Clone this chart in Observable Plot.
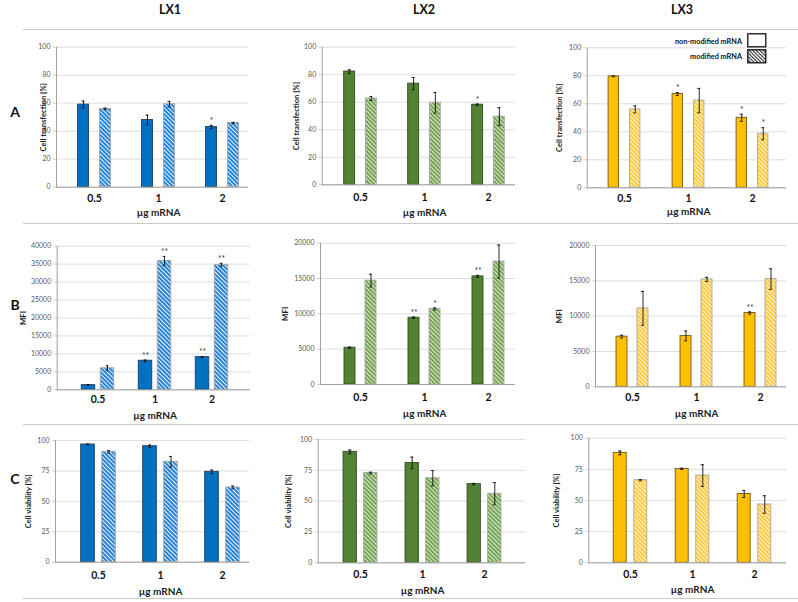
<!DOCTYPE html>
<html><head><meta charset="utf-8">
<script src="https://cdn.jsdelivr.net/npm/d3@7"></script>
<script src="https://cdn.jsdelivr.net/npm/@observablehq/plot@0.6"></script>
<style>
body{margin:0;background:#fff;font-family:Lato,"Open Sans",sans-serif;}
#page{position:relative;width:798px;height:602px;overflow:hidden;background:#fff}
.sep{position:absolute;left:23px;right:0;height:0;border-top:1.5px solid #c8c8c8}
.col{position:absolute;font-weight:bold;font-size:12.5px;transform:translate(-50%,-50%);color:#111;white-space:nowrap}
.row{position:absolute;font-weight:bold;font-size:14px;transform:translate(-50%,-50%);color:#111}
.leg{position:absolute;font-weight:bold;font-size:7.3px;color:#111;white-space:nowrap;transform:translateY(-50%)}
</style></head><body>
<svg width="0" height="0" style="position:absolute">
<defs>
<pattern id="hatch0" patternUnits="userSpaceOnUse" width="3" height="3" patternTransform="rotate(-45)"><rect width="3" height="3" fill="#ffffff"/><rect width="2.1" height="3" fill="#2a84d6"/></pattern>
<pattern id="hatch1" patternUnits="userSpaceOnUse" width="3" height="3" patternTransform="rotate(-45)"><rect width="3" height="3" fill="#d6e9c6"/><rect width="1.7" height="3" fill="#6a9844"/></pattern>
<pattern id="hatch2" patternUnits="userSpaceOnUse" width="3" height="3" patternTransform="rotate(-45)"><rect width="3" height="3" fill="#fff2cc"/><rect width="1.7" height="3" fill="#ffc531"/></pattern>
<pattern id="hatchK" patternUnits="userSpaceOnUse" width="2.5" height="2.5" patternTransform="rotate(-45)"><rect width="2.5" height="2.5" fill="#ffffff"/><rect width="1.1" height="2.5" fill="#333"/></pattern>
</defs></svg>
<div id="page"></div>
<script>
// ---------- data ----------
const doses = ["0.5", "1", "2"];
const cellLines = ["LX1", "LX2", "LX3"];
const rowLetters = ["A", "B", "C"];
const seriesNames = ["non-modified mRNA", "modified mRNA"];
const yTitles = ["Cell transfection [%]", "MFI", "Cell viability [%]"];
const xTitle = "µg mRNA";

// A: cell transfection [%] (rows = LX1, LX2, LX3; cols = doses)
const transNon    = [[59, 48, 43], [82.3, 73.5, 58.2], [79.6, 67, 50]];
const transNonErr = [[2.5, 3.5, 1.2], [1.3, 4.5, 0.5], [0.3, 1, 2.5]];
const transMod    = [[56, 59.3, 45.8], [62.7, 59.6, 49.5], [56, 62.3, 38.6]];
const transModErr = [[0.5, 2, 0.5], [1.5, 7.5, 6.5], [2.5, 8.7, 4.3]];
const transNonSig = [["", "", "*"], ["", "", "*"], ["", "*", "*"]];
const transModSig = [["", "", ""], ["", "", ""], ["", "", "*"]];

// B: MFI
const mfiNon    = [[1300, 8100, 9100], [5200, 9450, 15300], [7100, 7200, 10450]];
const mfiNonErr = [[150, 200, 150], [100, 100, 150], [200, 700, 150]];
const mfiMod    = [[6000, 35900, 34800], [14700, 10700, 17400], [11100, 15200, 15250]];
const mfiModErr = [[700, 1250, 400], [900, 150, 2350], [2400, 300, 1450]];
const mfiNonSig = [["", "**", "**"], ["", "**", "**"], ["", "", "**"]];
const mfiModSig = [["", "**", "**"], ["", "*", ""], ["", "", ""]];

// C: cell viability [%]
const viaNon    = [[96.7, 95.3, 74.3], [90, 81, 63.8], [88.2, 75.4, 55.2]];
const viaNonErr = [[0.5, 1, 1.5], [1.5, 4.7, 0.6], [1.5, 0.5, 2.8]];
const viaMod    = [[90.7, 82.5, 61.4], [72.8, 68.6, 56], [66.3, 70, 46.8]];
const viaModErr = [[1, 4.4, 1.2], [0.7, 6.2, 9], [0.5, 8.7, 7]];
const viaNonSig = [["", "", ""], ["", "", ""], ["", "", ""]];
const viaModSig = [["", "", ""], ["", "", ""], ["", "", ""]];

// axis ticks
const pctTicks = [0, 20, 40, 60, 80, 100];
const mfiTicksLX1 = [0, 5000, 10000, 15000, 20000, 25000, 30000, 35000, 40000];
const mfiTicks = [0, 5000, 10000, 15000, 20000];
const viaTicks = [0, 25, 50, 75, 100];

// ---------- styling / layout ----------
const solidFill = ["#0070C0", "#548235", "#FFC000"];
const solidStroke = ["#1f3f66", "#2f4d1e", "#6f5a22"];
const hatchFill = ["url(#hatch0)", "url(#hatch1)", "url(#hatch2)"];

const measures = [
  {non: transNon, nonErr: transNonErr, mod: transMod, modErr: transModErr, nonSig: transNonSig, modSig: transModSig, ticks: [pctTicks, pctTicks, pctTicks]},
  {non: mfiNon, nonErr: mfiNonErr, mod: mfiMod, modErr: mfiModErr, nonSig: mfiNonSig, modSig: mfiModSig, ticks: [mfiTicksLX1, mfiTicks, mfiTicks]},
  {non: viaNon, nonErr: viaNonErr, mod: viaMod, modErr: viaModErr, nonSig: viaNonSig, modSig: viaModSig, ticks: [viaTicks, viaTicks, viaTicks]}
];

const geom = [
 [ {left:0,top:32,w:263,h:190, axis:56, right:248, yTop:46.7, yBottom:186.7, c0:93.8, c2:222, bw:11, gap:11, tickPad:7.3, xlab:25.5, yOff:13},
   {left:263,top:32,w:267,h:190, axis:321.7, right:515, yTop:46.7, yBottom:184.3, c0:359.7, c2:487.8, bw:11, gap:10.7, tickPad:9, xlab:27.7, yOff:25.7},
   {left:530,top:32,w:268,h:190, axis:586.7, right:786, yTop:47.3, yBottom:187.3, c0:624.2, c2:752.5, bw:10.5, gap:11, tickPad:7, xlab:24.4, yOff:27.4} ],
 [ {left:0,top:226,w:263,h:196, axis:56.7, right:250, yTop:245.7, yBottom:389.3, c0:96.7, c2:211.7, bw:14, gap:5, tickPad:5.4, xlab:26.4, yOff:33.4},
   {left:263,top:226,w:267,h:196, axis:320, right:515, yTop:242.7, yBottom:384, c0:360, c2:488, bw:11, gap:10, tickPad:9, xlab:29.3, yOff:35},
   {left:530,top:226,w:268,h:196, axis:595, right:786, yTop:245, yBottom:386.3, c0:631.5, c2:759.5, bw:11, gap:10, tickPad:7, xlab:27, yOff:36} ],
 [ {left:0,top:426,w:263,h:170, axis:55, right:249, yTop:440, yBottom:561.7, c0:97.5, c2:222.2, bw:14, gap:7, tickPad:9.5, xlab:30, yOff:26.7},
   {left:263,top:426,w:267,h:170, axis:317.7, right:525, yTop:439, yBottom:562.3, c0:359.7, c2:483.7, bw:13.3, gap:7.3, tickPad:7.4, xlab:27.7, yOff:29.7},
   {left:530,top:426,w:268,h:170, axis:588.3, right:786, yTop:437.7, yBottom:562.3, c0:629.7, c2:753.7, bw:13, gap:7.6, tickPad:8, xlab:27, yOff:32.3} ]
];

const page = document.getElementById("page");

function makePanel(r, c) {
  const g = geom[r][c];
  const m = measures[r];
  const ticks = m.ticks[c];
  const non = doses.map((d, i) => ({dose: d, v: m.non[c][i], e: m.nonErr[c][i], sig: m.nonSig[c][i]}));
  const mod = doses.map((d, i) => ({dose: d, v: m.mod[c][i], e: m.modErr[c][i], sig: m.modSig[c][i]}));
  const S = (g.c2 - g.c0) / 2;
  const half = S / 2;
  const off = (g.bw + g.gap) / 2;
  const capIn = half - 1.6;
  const series = [
    {rows: non, fill: solidFill[c], stroke: solidStroke[c], dx: -off, inL: half - g.gap / 2 - g.bw, inR: half + g.gap / 2},
    {rows: mod, fill: hatchFill[c], stroke: "#a6a6a6", dx: off, inL: half + g.gap / 2, inR: half - g.gap / 2 - g.bw}
  ];
  const marks = [
    Plot.gridY(ticks, {stroke: "#dedede", strokeOpacity: 1}),
    Plot.axisY(ticks, {tickSize: 3, tickPadding: 3, stroke: "#d0d0d0", fill: "#595959", fontSize: 7, label: null, tickFormat: d => String(d)}),
    Plot.axisX({tickSize: 0, tickPadding: g.tickPad, fontWeight: "bold", fontSize: 10.5, fill: "#111", label: null}),
    Plot.text([yTitles[r]], {frameAnchor: "left", textAnchor: "middle", lineAnchor: "middle", rotate: -90, dx: -g.yOff, fontWeight: "bold", fontSize: r === 1 ? 7.8 : 7.6, fill: "#222"}),
    Plot.text([{d: "1"}], {x: "d", text: () => xTitle, frameAnchor: "bottom", dy: g.xlab, lineAnchor: "middle", fontWeight: "bold", fontSize: 10, fill: "#1a1a1a"})
  ];
  for (const s of series) {
    marks.push(
      Plot.barY(s.rows, {x: "dose", y: "v", fill: s.fill, stroke: s.stroke, strokeWidth: 0.9, insetLeft: s.inL, insetRight: s.inR})
    );
  }
  marks.push(Plot.ruleY([0], {stroke: "#a0a0a0", strokeWidth: 1}));
  marks.push(Plot.frame({anchor: "left", stroke: "#a0a0a0"}));
  for (const s of series) {
    marks.push(
      Plot.ruleX(s.rows, {x: "dose", y1: d => d.v - d.e, y2: d => d.v + d.e, dx: s.dx, stroke: "#111", strokeWidth: 0.9}),
      Plot.tickY(s.rows, {x: "dose", y: d => d.v + d.e, dx: s.dx, insetLeft: capIn, insetRight: capIn, stroke: "#111", strokeWidth: 0.9}),
      Plot.tickY(s.rows, {x: "dose", y: d => d.v - d.e, dx: s.dx, insetLeft: capIn, insetRight: capIn, stroke: "#111", strokeWidth: 0.9}),
      Plot.text(s.rows.filter(d => d.sig), {x: "dose", y: d => d.v + d.e, text: "sig", dx: s.dx, dy: -4, lineAnchor: "middle", fontSize: 8.5, fill: "#404040", style: "letter-spacing:1px"})
    );
  }
  const svg = Plot.plot({
    width: g.w, height: g.h,
    marginLeft: g.axis - g.left, marginRight: g.left + g.w - g.right,
    marginTop: g.yTop - g.top, marginBottom: g.top + g.h - g.yBottom,
    x: {domain: doses, range: [g.c0 - S / 2 - g.left, g.c2 + S / 2 - g.left], padding: 0},
    y: {domain: [0, ticks[ticks.length - 1]]},
    style: {fontFamily: "Lato, 'Open Sans', sans-serif", background: "transparent", overflow: "visible"},
    marks
  });
  svg.style.position = "absolute";
  svg.style.left = g.left + "px";
  svg.style.top = g.top + "px";
  page.appendChild(svg);
}

for (let r = 0; r < 3; r++) for (let c = 0; c < 3; c++) makePanel(r, c);

// column titles, row letters, separators
const colX = [170, 424, 682];
cellLines.forEach((t, i) => {
  const d = document.createElement("div");
  d.className = "col"; d.textContent = t;
  d.style.left = colX[i] + "px"; d.style.top = "9px";
  page.appendChild(d);
});
const rowY = [111, 304, 478];
rowLetters.forEach((t, i) => {
  const d = document.createElement("div");
  d.className = "row"; d.textContent = t;
  d.style.left = "15px"; d.style.top = rowY[i] + "px";
  page.appendChild(d);
});
[28.5, 222.5, 423.5, 597.5].forEach(y => {
  const d = document.createElement("div");
  d.className = "sep"; d.style.top = y + "px";
  page.appendChild(d);
});

// legend
const legY = [40.5, 56];
const legFill = ["#ffffff", "url(#hatchK)"];
seriesNames.forEach((t, i) => {
  const d = document.createElement("div");
  d.className = "leg"; d.textContent = t;
  d.style.right = (798 - 742) + "px"; d.style.top = legY[i] + "px";
  page.appendChild(d);
  const sw = d3.create("svg").attr("width", 20).attr("height", 15)
    .style("position", "absolute").style("left", "747px").style("top", (legY[i] - 7.2) + "px");
  sw.append("rect").attr("x", 0.8).attr("y", 0.8).attr("width", 18).attr("height", 13)
    .attr("fill", legFill[i]).attr("stroke", "#111").attr("stroke-width", 1.3);
  page.appendChild(sw.node());
});
</script>
</body></html>
